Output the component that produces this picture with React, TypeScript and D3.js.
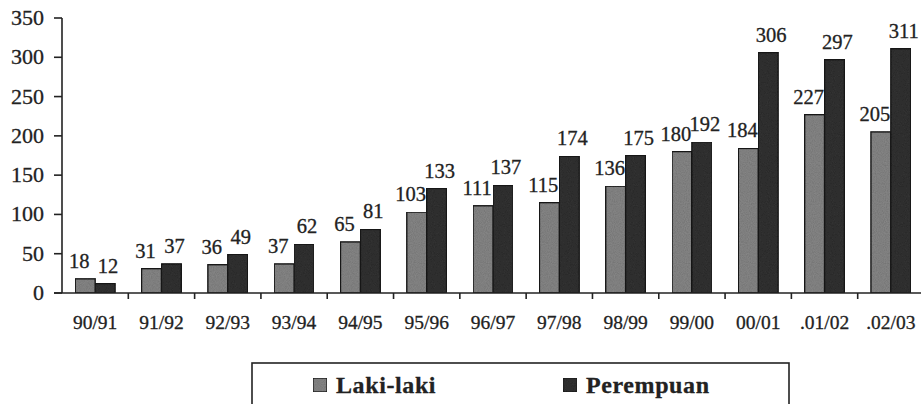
import React from "react";
import * as d3 from "d3";

const categories = ["90/91", "91/92", "92/93", "93/94", "94/95", "95/96", "96/97", "97/98", "98/99", "99/00", "00/01", ".01/02", ".02/03"];
const lakiLaki = [18, 31, 36, 37, 65, 103, 111, 115, 136, 180, 184, 227, 205];
const perempuan = [12, 37, 49, 62, 81, 133, 137, 174, 175, 192, 306, 297, 311];
const seriesNames = ["Laki-laki", "Perempuan"];
const seriesColors = ["#8a8a8a", "#353535"];
const yTicks = [0, 50, 100, 150, 200, 250, 300, 350];

const W = 921;
const H = 404;
const left = 62;
const right = 924;
const top = 18;
const bottom = 293;
const font = "Liberation Serif, Times New Roman, serif";

export default function App() {
  const x0 = d3.scaleBand<string>().domain(categories).range([left, right]).paddingInner(0.4).paddingOuter(0.2);
  const x1 = d3.scaleBand<string>().domain(seriesNames).range([0, x0.bandwidth()]).padding(0);
  const y = d3.scaleLinear().domain([0, 350]).range([bottom, top]);
  const step = x0.step();
  const series = [lakiLaki, perempuan];
  const labelDx = [-6, 3];
  const txt = { fontFamily: font, fill: "#222", stroke: "#222", strokeWidth: 0.3 } as React.CSSProperties;

  return (
    <svg width={W} height={H} style={{ position: "absolute", left: 0, top: 0, background: "#fff" }}>
      <defs>
        <filter id="grain" x="0" y="0" width="100%" height="100%">
          <feTurbulence type="fractalNoise" baseFrequency="0.9" numOctaves="2" seed="3" result="n" />
          <feColorMatrix in="n" type="matrix" values="0 0 0 0 0  0 0 0 0 0  0 0 0 0 0  0 0 0 0.35 0" result="na" />
          <feComposite in="na" in2="SourceGraphic" operator="in" result="nm" />
          <feMerge>
            <feMergeNode in="SourceGraphic" />
            <feMergeNode in="nm" />
          </feMerge>
        </filter>
      </defs>
      {categories.map((c, i) => (
        <g key={c} transform={`translate(${x0(c)},0)`}>
          {series.map((s, k) => (
            <rect
              key={k}
              x={x1(seriesNames[k])}
              y={y(s[i])}
              width={x1.bandwidth()}
              height={y(0) - y(s[i])}
              fill={seriesColors[k]}
              stroke="#1e1e1e"
              strokeWidth={1.4}
              filter="url(#grain)"
            />
          ))}
        </g>
      ))}
      {categories.map((c, i) => (
        <g key={"l" + c}>
          {series.map((s, k) => (
            <text
              key={k}
              x={(x0(c) as number) + (x1(seriesNames[k]) as number) + x1.bandwidth() / 2 + labelDx[k]}
              y={y(s[i]) - 11}
              textAnchor="middle"
              fontSize={20.5}
              style={txt}
            >
              {s[i]}
            </text>
          ))}
        </g>
      ))}
      <line x1={left} x2={left} y1={top} y2={bottom} stroke="#222" strokeWidth={1.6} />
      {yTicks.map((t) => (
        <g key={t}>
          <line x1={left - 8} x2={left} y1={y(t)} y2={y(t)} stroke="#222" strokeWidth={1.6} />
          <text x={left - 18} y={y(t) + 7} textAnchor="end" fontSize={22} style={txt}>
            {t}
          </text>
        </g>
      ))}
      <line x1={left - 8} x2={W} y1={bottom} y2={bottom} stroke="#222" strokeWidth={1.6} />
      {categories.map((c, i) => (
        <g key={"x" + c}>
          {i > 0 && (
            <line x1={left + i * step} x2={left + i * step} y1={bottom} y2={bottom + 6} stroke="#222" strokeWidth={1.6} />
          )}
          <text x={(x0(c) as number) + x0.bandwidth() / 2} y={329} textAnchor="middle" fontSize={19.5} style={txt}>
            {c}
          </text>
        </g>
      ))}
      <rect x={252} y={363} width={537} height={60} fill="none" stroke="#222" strokeWidth={1.6} />
      {seriesNames.map((n, k) => {
        const lx = [313, 563][k];
        return (
          <g key={n}>
            <rect x={lx} y={378} width={14} height={14} fill={seriesColors[k]} stroke="#1e1e1e" strokeWidth={1.3} filter="url(#grain)" />
            <text x={lx + 23} y={393} fontWeight="bold" fontSize={24} letterSpacing={0.6} style={txt}>
              {n}
            </text>
          </g>
        );
      })}
    </svg>
  );
}
